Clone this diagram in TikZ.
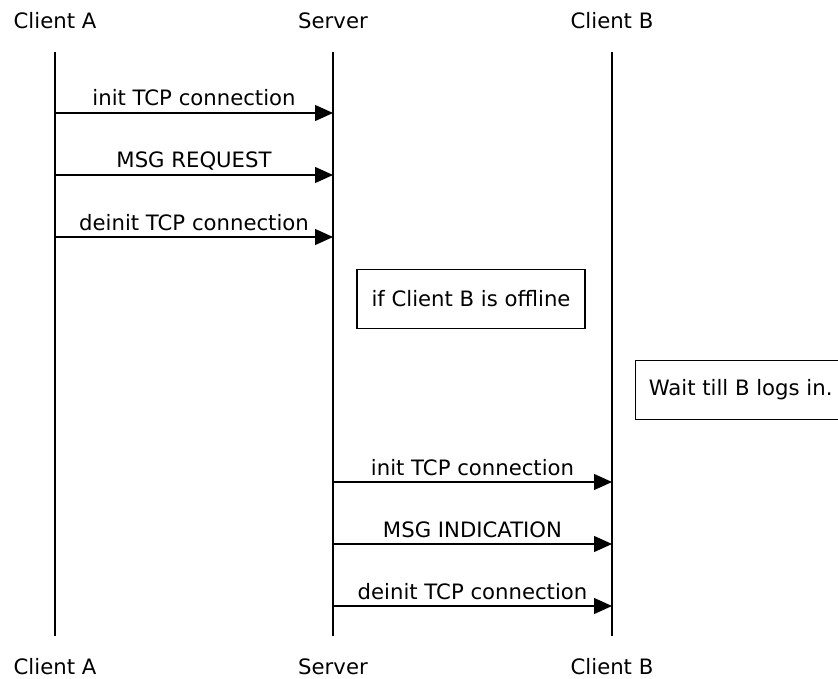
\documentclass[tikz,border=0pt]{standalone}
\usepackage{fontspec}
\setmainfont{DejaVu Sans}
\usetikzlibrary{arrows.meta}
\begin{document}
\begin{tikzpicture}[x=1pt,y=-1pt,
  font=\fontsize{21.2}{25}\selectfont,
  life/.style={line width=1.3pt},
  msg/.style={-{Triangle[length=18pt,width=16pt]}, line width=1.3pt},
  lbl/.style={anchor=base, yshift=7pt, inner sep=0pt},
  head/.style={anchor=base, inner sep=0pt},
  note/.style={draw, line width=1.3pt, minimum height=59pt, inner sep=0pt}]
\clip (0,0) rectangle (838,679);
% headers
\node[head] (hA) at (55,29) {Client A};
\node[head] (hS) at (333,29) {Server};
\node[head] (hB) at (612,29) {Client B};
\node[head] (fA) at (55,674) {Client A};
\node[head] (fS) at (333,674) {Server};
\node[head] (fB) at (612,674) {Client B};
% lifelines
\coordinate (A0) at (55,52);  \coordinate (A9) at (55,636);
\coordinate (S0) at (333,52); \coordinate (S9) at (333,636);
\coordinate (B0) at (612,52); \coordinate (B9) at (612,636);
\draw[life] (A0) -- (A9);
\draw[life] (S0) -- (S9);
\draw[life] (B0) -- (B9);
% messages A -> Server
\coordinate (a1) at (55,113);  \coordinate (s1) at (333,113);
\coordinate (a2) at (55,175);  \coordinate (s2) at (333,175);
\coordinate (a3) at (55,237);  \coordinate (s3) at (333,237);
\draw[msg] (a1) -- node[lbl] {init TCP connection} (s1);
\draw[msg] (a2) -- node[lbl] {MSG REQUEST} (s2);
\draw[msg] (a3) -- node[lbl] {deinit TCP connection} (s3);
% notes
\node[note, minimum width=228pt] (n1) at (471,299) {if Client B is offline};
\node[note, minimum width=210pt, anchor=west] (n2) at (635,390) {Wait till B logs in.};
% messages Server -> B
\coordinate (s4) at (333,482); \coordinate (b4) at (612,482);
\coordinate (s5) at (333,544); \coordinate (b5) at (612,544);
\coordinate (s6) at (333,606); \coordinate (b6) at (612,606);
\draw[msg] (s4) -- node[lbl] {init TCP connection} (b4);
\draw[msg] (s5) -- node[lbl] {MSG INDICATION} (b5);
\draw[msg] (s6) -- node[lbl] {deinit TCP connection} (b6);
\end{tikzpicture}
\end{document}
